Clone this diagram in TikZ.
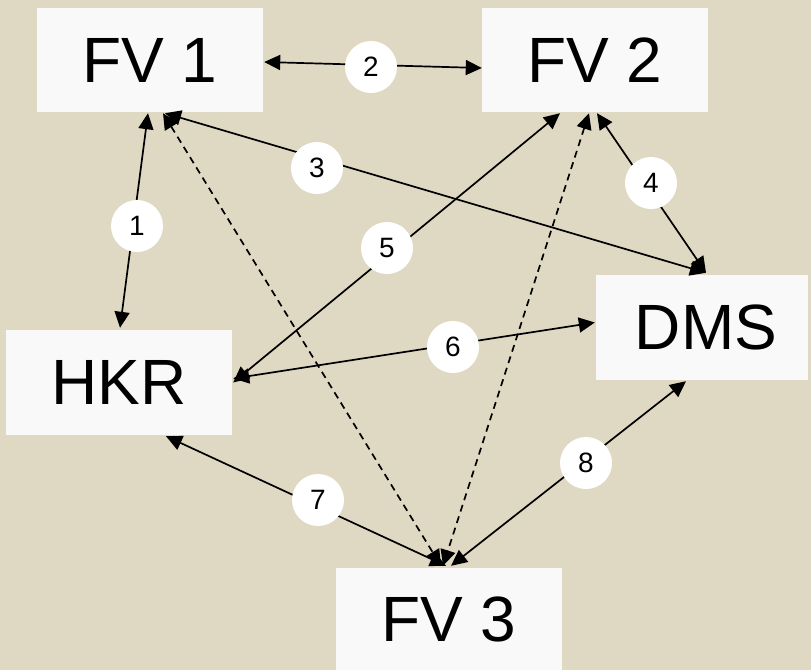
\documentclass[tikz,border=0pt]{standalone}
\usepackage{fontspec}
\setmainfont{Liberation Sans}
\usetikzlibrary{arrows.meta,calc}
\definecolor{bg}{HTML}{DFD8C3}
\definecolor{boxc}{HTML}{F9F9F9}
\tikzset{
  box/.style={fill=boxc, draw=none, minimum width=226pt, minimum height=104pt, inner sep=0pt, font=\fontsize{64}{64}\selectfont},
  lab/.style={circle, fill=white, draw=none, minimum size=52pt, inner sep=0pt, font=\fontsize{28}{28}\selectfont},
  link/.style={line width=1.7pt, {Triangle[length=16pt,width=15pt]}-{Triangle[length=16pt,width=15pt]}},
  dlink/.style={link, dash pattern=on 7pt off 5pt}
}
\begin{document}
\begin{tikzpicture}[x=1pt,y=-1pt]
\fill[bg] (0,0) rectangle (811,670);
\useasboundingbox (0,0) rectangle (811,670);
\node[box] (fv1) at (150,60) {FV 1};
\node[box] (fv2) at (595,60) {FV 2};
\node[box, minimum width=212pt, minimum height=105pt] (dms) at (702,327.5) {\hspace*{8pt}DMS};
\node[box, minimum height=105pt] (hkr) at (119,382.5) {HKR};
\node[box, minimum height=102pt] (fv3) at (449,619) {FV 3};

\draw[link] ($(fv1.east)+(1,2)$) -- ($(fv2.west)+(0,8)$);
\draw[link] ($(fv1.south)+(-2,1)$) -- ($(hkr.north)+(1,-2)$);
\draw[link] ($(fv1.south)+(15,1)$) -- ($(dms.north)+(4,-2)$);
\draw[link] ($(fv2.south)+(2,1)$) -- ($(dms.north)+(4,-2)$);
\draw[link] ($(fv2.south)+(-35,1)$) -- ($(hkr.east)+(1,0)$);
\draw[link] ($(hkr.east)+(1,-4)$) -- ($(dms.west)+(-1,-5)$);
\draw[link] ($(hkr.south)+(47,1)$) -- ($(fv3.north)+(-3,-2)$);
\draw[link] ($(dms.south)+(-16,1)$) -- ($(fv3.north)+(2,-2)$);
\draw[dlink] ($(fv1.south)+(13,1)$) -- ($(fv3.north)+(-8,-2)$);
\draw[dlink] ($(fv2.south)+(-6,1)$) -- ($(fv3.north)+(-6,-2)$);

\node[lab] (l1) at (137,226) {1};
\node[lab] (l2) at (371,67) {2};
\node[lab] (l3) at (317,168) {3};
\node[lab] (l4) at (651,183) {4};
\node[lab] (l5) at (387,248) {5};
\node[lab] (l6) at (453,347) {6};
\node[lab] (l7) at (318,500) {7};
\node[lab] (l8) at (586,463) {8};
\end{tikzpicture}
\end{document}
